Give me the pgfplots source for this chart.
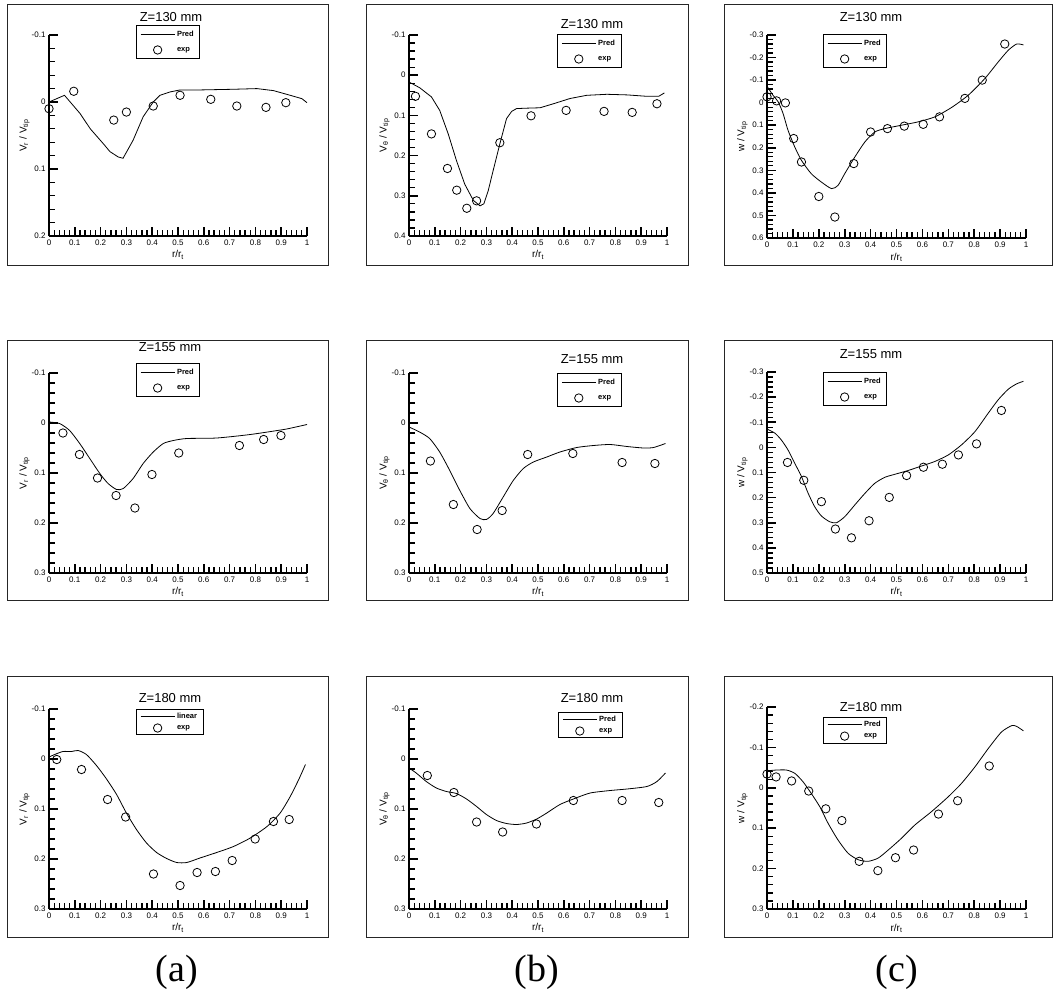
\documentclass[border=0pt]{standalone}
\usepackage{fontspec}
\setmainfont{Liberation Sans}
\newfontfamily\serifont{Liberation Serif}
\usepackage{pgfplots}
\pgfplotsset{compat=1.18}
\pgfplotsset{
 panel/.style={
  scale only axis, width=258pt, height=200pt,
  axis lines=left, axis line style={-, line width=1.3pt},
  xmin=0, xmax=1, y dir=reverse,
  xtick={0,0.1,0.2,0.3,0.4,0.5,0.6,0.7,0.8,0.9,1},
  minor x tick num=4, minor y tick num=4,
  xtick align=inside, ytick align=inside,
  major tick length=9pt, minor tick length=6pt,
  every major tick/.append style={black, line width=1.6pt},
  every minor tick/.append style={black, line width=1.3pt},
  ticklabel style={font=\fontsize{8}{9}\selectfont},
  /pgf/number format/assume math mode=true,
  xlabel={r/r\textsubscript{t}},
  label style={font=\fontsize{10}{11}\selectfont},
  xlabel style={at={(axis description cs:0.5,-0.095)}, anchor=center},
  ylabel style={at={(axis description cs:-0.095,0.5)}, anchor=center},
  clip=false,
  legend cell align=left,
  legend style={draw=black, line width=0.6pt, font=\fontsize{7.5}{8}\selectfont\bfseries,
    inner xsep=4pt, inner ysep=4pt, row sep=5pt, anchor=north west,
    /tikz/every even column/.append style={column sep=5pt}},
 },
 predline/.style={black, line width=0.8pt,
   legend image code/.code={\draw[##1] (0pt,0pt) -- (34pt,0pt);}},
 expmark/.style={only marks, mark=o, mark size=4.2pt, mark options={line width=0.8pt, black},
   legend image code/.code={\draw[mark repeat=2,mark phase=2,##1] plot coordinates {(0pt,0pt) (17pt,0pt) (34pt,0pt)};}},
}
\newcommand{\ylr}{V\textsubscript{r} / V\textsubscript{tip}}
\newcommand{\ylt}{V\textsubscript{θ} / V\textsubscript{tip}}
\newcommand{\ylw}{w / V\textsubscript{tip}}
\begin{document}
\begin{tikzpicture}
\path[use as bounding box] (0pt,0pt) rectangle (1059pt,-1000pt);
% frames
\foreach \xa/\xb in {7/328,366/688,724/1052}{
  \foreach \ya/\yb in {5/265,340/600,676/937}{
    \draw[line width=1pt, black!85] (\xa pt,-\ya pt) rectangle (\xb pt,-\yb pt);
  }
}
% titles
\begin{scope}[every node/.style={font=\fontsize{13}{15}\selectfont}]
\node at (171pt,-17pt) {Z=130 mm};
\node at (592pt,-24pt) {Z=130 mm};
\node at (871pt,-17pt) {Z=130 mm};
\node at (170pt,-347pt) {Z=155 mm};
\node at (592pt,-359pt) {Z=155 mm};
\node at (871pt,-354pt) {Z=155 mm};
\node at (170pt,-698pt) {Z=180 mm};
\node at (592pt,-698pt) {Z=180 mm};
\node at (871pt,-707pt) {Z=180 mm};
\end{scope}
\begin{scope}[every node/.style={font=\serifont\fontsize{38}{40}\selectfont}]
\node at (177pt,-972pt) {(a)};
\node at (537pt,-972pt) {(b)};
\node at (897pt,-972pt) {(c)};
\end{scope}

% ---------- row 1 ----------
\begin{axis}[panel, at={(49pt,-236pt)}, anchor=south west, height=201pt,
  ymin=-0.1, ymax=0.2, ytick={-0.1,0,0.1,0.2}, ylabel={\ylr},
  legend style={at={(axis description cs:0.337,1.05)}}]
\addplot[predline] coordinates {(0,0.0) (0.06,-0.010) (0.12,0.017) (0.16,0.040) (0.21,0.062) (0.236,0.074) (0.268,0.082) (0.287,0.084) (0.326,0.057) (0.365,0.022) (0.404,0.0) (0.43,-0.010) (0.469,-0.015) (0.508,-0.018) (0.585,-0.018) (0.715,-0.019) (0.806,-0.020) (0.87,-0.017) (0.935,-0.010) (0.98,-0.005) (1.0,0.001)};
\addlegendentry{Pred}
\addplot[expmark] coordinates {(0,0.010) (0.096,-0.016) (0.251,0.027) (0.30,0.015) (0.404,0.006) (0.508,-0.010) (0.627,-0.004) (0.728,0.006) (0.841,0.008) (0.918,0.001)};
\addlegendentry{exp}
\end{axis}

\begin{axis}[panel, at={(409pt,-236pt)}, anchor=south west, height=201pt,
  ymin=-0.1, ymax=0.4, ytick={-0.1,0,0.1,0.2,0.3,0.4}, ylabel={\ylt},
  legend style={at={(axis description cs:0.574,1.005)}}]
\addplot[predline] coordinates {(0,0.017) (0.041,0.031) (0.087,0.054) (0.119,0.0875) (0.152,0.146) (0.184,0.2125) (0.216,0.271) (0.249,0.311) (0.275,0.325) (0.29,0.32) (0.307,0.2875) (0.326,0.2375) (0.352,0.171) (0.378,0.108) (0.398,0.09) (0.417,0.083) (0.456,0.082) (0.508,0.081) (0.56,0.071) (0.624,0.058) (0.689,0.05) (0.767,0.0475) (0.845,0.049) (0.922,0.0525) (0.968,0.0525) (0.99,0.044)};
\addlegendentry{Pred}
\addplot[expmark] coordinates {(0.025,0.0525) (0.087,0.146) (0.149,0.232) (0.185,0.286) (0.224,0.331) (0.262,0.3125) (0.352,0.168) (0.473,0.101) (0.609,0.0875) (0.756,0.09) (0.865,0.0925) (0.961,0.071)};
\addlegendentry{exp}
\end{axis}

\begin{axis}[panel, at={(767pt,-238pt)}, anchor=south west, width=259pt, height=203pt,
  ymin=-0.3, ymax=0.6, ytick={-0.3,-0.2,-0.1,0,0.1,0.2,0.3,0.4,0.5,0.6}, ylabel={\ylw},
  legend style={at={(axis description cs:0.216,1.005)}}]
\addplot[predline, smooth, tension=0.4] coordinates {(0,-0.073) (0.023,-0.033) (0.043,-0.004) (0.062,0.048) (0.081,0.122) (0.107,0.196) (0.133,0.256) (0.171,0.315) (0.21,0.352) (0.249,0.381) (0.274,0.367) (0.30,0.315) (0.339,0.241) (0.378,0.174) (0.416,0.13) (0.455,0.115) (0.519,0.1) (0.584,0.085) (0.648,0.063) (0.713,0.021) (0.777,-0.033) (0.841,-0.107) (0.893,-0.181) (0.932,-0.233) (0.964,-0.26) (0.99,-0.256)};
\addlegendentry{Pred}
\addplot[expmark] coordinates {(0,-0.026) (0.037,-0.008) (0.071,0.001) (0.103,0.159) (0.133,0.263) (0.2,0.416) (0.262,0.507) (0.335,0.27) (0.4,0.13) (0.465,0.115) (0.53,0.104) (0.603,0.096) (0.666,0.063) (0.764,-0.019) (0.831,-0.1) (0.918,-0.26)};
\addlegendentry{exp}
\end{axis}

% ---------- row 2 ----------
\begin{axis}[panel, at={(49pt,-573pt)}, anchor=south west,
  ymin=-0.1, ymax=0.3, ytick={-0.1,0,0.1,0.2,0.3}, ylabel={\ylr},
  legend style={at={(axis description cs:0.337,1.05)}}]
\addplot[predline, smooth, tension=0.4] coordinates {(0,-0.002) (0.041,0.001) (0.08,0.015) (0.119,0.041) (0.158,0.071) (0.197,0.101) (0.229,0.121) (0.262,0.133) (0.288,0.131) (0.326,0.111) (0.365,0.081) (0.404,0.058) (0.443,0.041) (0.482,0.035) (0.534,0.031) (0.65,0.03) (0.78,0.023) (0.91,0.013) (0.948,0.009) (1.0,0.003)};
\addlegendentry{Pred}
\addplot[expmark] coordinates {(0.054,0.02) (0.118,0.063) (0.188,0.11) (0.26,0.145) (0.333,0.17) (0.399,0.103) (0.503,0.06) (0.738,0.045) (0.832,0.033) (0.899,0.025)};
\addlegendentry{exp}
\end{axis}

\begin{axis}[panel, at={(409pt,-573pt)}, anchor=south west,
  ymin=-0.1, ymax=0.3, ytick={-0.1,0,0.1,0.2,0.3}, ylabel={\ylt},
  legend style={at={(axis description cs:0.574,1.0)}}]
\addplot[predline, smooth, tension=0.4] coordinates {(0,0.008) (0.041,0.018) (0.08,0.031) (0.119,0.058) (0.158,0.095) (0.197,0.135) (0.236,0.171) (0.275,0.191) (0.30,0.193) (0.326,0.181) (0.365,0.148) (0.404,0.115) (0.443,0.091) (0.482,0.078) (0.534,0.068) (0.585,0.058) (0.65,0.049) (0.715,0.045) (0.78,0.043) (0.845,0.047) (0.909,0.05) (0.948,0.049) (0.994,0.041)};
\addlegendentry{Pred}
\addplot[expmark] coordinates {(0.083,0.076) (0.172,0.163) (0.264,0.213) (0.361,0.175) (0.46,0.063) (0.635,0.061) (0.826,0.079) (0.953,0.081)};
\addlegendentry{exp}
\end{axis}

\begin{axis}[panel, at={(767pt,-573pt)}, anchor=south west, width=259pt, height=201pt,
  ymin=-0.3, ymax=0.5, ytick={-0.3,-0.2,-0.1,0,0.1,0.2,0.3,0.4,0.5}, ylabel={\ylw},
  legend style={at={(axis description cs:0.216,1.0)}}]
\addplot[predline, smooth, tension=0.4] coordinates {(0,-0.073) (0.03,-0.057) (0.055,-0.03) (0.081,0.01) (0.107,0.063) (0.133,0.116) (0.159,0.183) (0.184,0.236) (0.21,0.273) (0.242,0.296) (0.268,0.3) (0.3,0.276) (0.339,0.229) (0.378,0.183) (0.416,0.143) (0.455,0.119) (0.494,0.107) (0.545,0.092) (0.597,0.074) (0.648,0.056) (0.7,0.03) (0.751,-0.01) (0.803,-0.063) (0.854,-0.136) (0.893,-0.19) (0.932,-0.232) (0.964,-0.253) (0.99,-0.263)};
\addlegendentry{Pred}
\addplot[expmark] coordinates {(0.079,0.06) (0.142,0.131) (0.21,0.216) (0.264,0.325) (0.326,0.36) (0.394,0.292) (0.472,0.199) (0.539,0.112) (0.604,0.079) (0.677,0.067) (0.739,0.03) (0.809,-0.014) (0.905,-0.147)};
\addlegendentry{exp}
\end{axis}

% ---------- row 3 ----------
\begin{axis}[panel, at={(49pt,-909pt)}, anchor=south west,
  ymin=-0.1, ymax=0.3, ytick={-0.1,0,0.1,0.2,0.3}, ylabel={\ylr},
  legend style={at={(axis description cs:0.337,1.0)}, row sep=1pt, inner ysep=2pt}]
\addplot[predline, smooth, tension=0.4] coordinates {(0,-0.004) (0.022,-0.009) (0.054,-0.015) (0.087,-0.015) (0.113,-0.017) (0.145,-0.009) (0.184,0.013) (0.223,0.04) (0.262,0.071) (0.30,0.108) (0.339,0.141) (0.378,0.168) (0.417,0.187) (0.456,0.199) (0.495,0.207) (0.534,0.207) (0.585,0.198) (0.65,0.187) (0.715,0.175) (0.78,0.158) (0.845,0.135) (0.896,0.108) (0.935,0.075) (0.968,0.041) (0.994,0.011)};
\addlegendentry{linear}
\addplot[expmark] coordinates {(0.03,0.001) (0.126,0.021) (0.227,0.081) (0.297,0.116) (0.405,0.23) (0.508,0.253) (0.574,0.227) (0.645,0.225) (0.71,0.203) (0.799,0.16) (0.87,0.125) (0.931,0.121)};
\addlegendentry{exp}
\end{axis}

\begin{axis}[panel, at={(409pt,-909pt)}, anchor=south west,
  ymin=-0.1, ymax=0.3, ytick={-0.1,0,0.1,0.2,0.3}, ylabel={\ylt},
  legend style={at={(axis description cs:0.578,0.985)}, row sep=1pt, inner ysep=2pt}]
\addplot[predline, smooth, tension=0.4] coordinates {(0,0.018) (0.028,0.028) (0.067,0.045) (0.106,0.058) (0.145,0.065) (0.184,0.069) (0.223,0.08) (0.262,0.095) (0.30,0.111) (0.339,0.123) (0.378,0.129) (0.417,0.131) (0.456,0.128) (0.495,0.12) (0.534,0.108) (0.585,0.091) (0.637,0.08) (0.702,0.068) (0.78,0.063) (0.845,0.06) (0.922,0.055) (0.961,0.045) (0.994,0.028)};
\addlegendentry{Pred}
\addplot[expmark] coordinates {(0.071,0.033) (0.174,0.067) (0.262,0.126) (0.363,0.146) (0.494,0.13) (0.637,0.083) (0.826,0.083) (0.968,0.087)};
\addlegendentry{exp}
\end{axis}

\begin{axis}[panel, at={(767pt,-909pt)}, anchor=south west, width=259pt, height=202pt,
  ymin=-0.2, ymax=0.3, ytick={-0.2,-0.1,0,0.1,0.2,0.3}, ylabel={\ylw},
  legend style={at={(axis description cs:0.216,0.95)}, row sep=1pt, inner ysep=2pt}]
\addplot[predline, smooth, tension=0.4] coordinates {(0,-0.042) (0.036,-0.044) (0.075,-0.044) (0.107,-0.036) (0.139,-0.015) (0.171,0.014) (0.204,0.047) (0.236,0.088) (0.274,0.129) (0.313,0.162) (0.352,0.178) (0.39,0.182) (0.429,0.174) (0.468,0.154) (0.519,0.125) (0.571,0.092) (0.635,0.059) (0.7,0.022) (0.751,-0.011) (0.803,-0.052) (0.854,-0.097) (0.905,-0.138) (0.945,-0.154) (0.964,-0.152) (0.99,-0.141)};
\addlegendentry{Pred}
\addplot[expmark] coordinates {(0,-0.034) (0.035,-0.027) (0.095,-0.017) (0.161,0.008) (0.227,0.052) (0.289,0.081) (0.356,0.182) (0.428,0.205) (0.496,0.173) (0.566,0.154) (0.662,0.065) (0.736,0.032) (0.858,-0.054)};
\addlegendentry{exp}
\end{axis}
\end{tikzpicture}
\end{document}
